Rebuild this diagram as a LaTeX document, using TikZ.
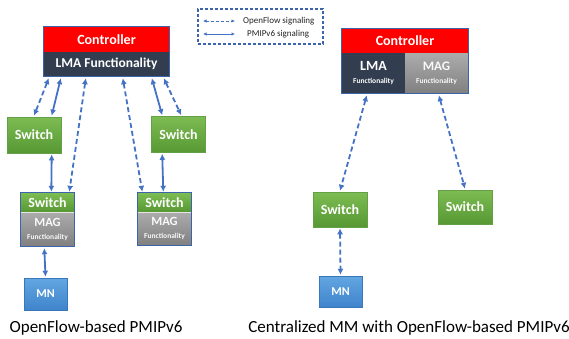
\documentclass[tikz,border=0pt]{standalone}
\usepackage{fontspec}
\setmainfont{Carlito}
\usetikzlibrary{arrows.meta}
\definecolor{ctrlred}{RGB}{255,0,0}
\definecolor{lmadark}{RGB}{50,62,80}
\definecolor{edgeblue}{RGB}{60,100,170}
\definecolor{arrowblue}{RGB}{68,114,196}
\definecolor{swtop}{RGB}{124,188,82}
\definecolor{swbot}{RGB}{88,152,52}
\definecolor{swedge}{RGB}{100,160,70}
\definecolor{magtop}{RGB}{172,172,172}
\definecolor{magbot}{RGB}{128,128,128}
\definecolor{mntop}{RGB}{98,166,226}
\definecolor{mnbot}{RGB}{64,132,204}
\newcommand\fnsmall{\fontsize{7.5}{9}\selectfont\bfseries}
\tikzset{
  boxlabel/.style={text=white, font=\bfseries, inner sep=0pt, align=center},
  ctrlbox/.style={boxlabel, fill=ctrlred, font=\fontsize{14}{16}\selectfont\bfseries},
  lmabox/.style={boxlabel, fill=lmadark},
  switchbox/.style={boxlabel, top color=swtop, bottom color=swbot, draw=swedge, line width=0.6pt,
    font=\fontsize{14}{16}\selectfont\bfseries, minimum width=54pt, minimum height=36pt},
  comboswitch/.style={boxlabel, top color=swtop, bottom color=swbot,
    font=\fontsize{14}{16}\selectfont\bfseries, minimum width=54pt, minimum height=19pt},
  magbox/.style={boxlabel, top color=magtop, bottom color=magbot, text=white!95!gray},
  mnbox/.style={boxlabel, top color=mntop, bottom color=mnbot, draw=mnbot!90!black, line width=0.5pt,
    font=\fontsize{12}{14}\selectfont\bfseries, minimum width=43pt, minimum height=32pt},
  outline/.style={draw=edgeblue, line width=1.2pt},
  pmip/.style={draw=arrowblue, line width=1.8pt, {Latex[length=6pt,width=6pt]}-{Latex[length=6pt,width=6pt]}},
  ofsig/.style={pmip, dash pattern=on 5pt off 3pt},
  caption/.style={font=\fontsize{17}{20}\selectfont, text=black},
  bigfn/.style={font=\fontsize{13.5}{16}\selectfont\bfseries},
}
\begin{document}
\begin{tikzpicture}[x=1pt,y=-1pt]
\useasboundingbox[fill=white] (0,0) rectangle (569,338);

% ---- legend ----
\node[draw=edgeblue, line width=1.2pt, dash pattern=on 3pt off 2pt, minimum width=125pt, minimum height=35pt, inner sep=0pt] (legend) at (260.5,26.5) {};
\coordinate (lgOFa) at (203,21);
\coordinate (lgOFb) at (235,21);
\coordinate (lgPMa) at (203,34);
\coordinate (lgPMb) at (235,34);
\draw[draw=arrowblue, line width=1pt, dash pattern=on 3pt off 2pt, {Latex[length=3.5pt,width=3.5pt]}-{Latex[length=3.5pt,width=3.5pt]}] (lgOFa) -- (lgOFb);
\draw[draw=arrowblue, line width=1pt, {Latex[length=3.5pt,width=3.5pt]}-{Latex[length=3.5pt,width=3.5pt]}] (lgPMa) -- (lgPMb);
\node[anchor=west, font=\fontsize{9}{11}\selectfont, inner sep=0pt, text=black!85] (lgOFt) at (243,21) {OpenFlow signaling};
\node[anchor=west, font=\fontsize{9}{11}\selectfont, inner sep=0pt, text=black!85] (lgPMt) at (247,34) {PMIPv6 signaling};

% ---- left: OpenFlow-based PMIPv6 ----
\node[ctrlbox, minimum width=125pt, minimum height=25pt] (ctrlL) at (106.5,39.5) {Controller};
\node[lmabox, bigfn, minimum width=125pt, minimum height=24pt] (lmaL) at (106.5,64) {LMA Functionality};
\draw[outline] (ctrlL.north west) rectangle (lmaL.south east);

\node[switchbox] (sw1) at (34,135) {Switch};
\node[switchbox] (sw2) at (178.5,134.5) {Switch};

\node[comboswitch] (cs1) at (47.5,202.5) {Switch};
\node[magbox, minimum width=54pt, minimum height=34pt] (mag1) at (47.5,229)
  {{\fontsize{12.5}{13}\selectfont\bfseries MAG}\\[1pt]{\fnsmall Functionality}};
\draw[white!80!gray, line width=0.8pt] (cs1.south west) -- (cs1.south east);
\draw[outline] (cs1.north west) rectangle (mag1.south east);

\node[comboswitch] (cs2) at (164.5,202.5) {Switch};
\node[magbox, minimum width=54pt, minimum height=33pt] (mag2) at (164.5,228.5)
  {{\fontsize{12.5}{13}\selectfont\bfseries MAG}\\[1pt]{\fnsmall Functionality}};
\draw[white!80!gray, line width=0.8pt] (cs2.south west) -- (cs2.south east);
\draw[outline] (cs2.north west) rectangle (mag2.south east);

\node[mnbox] (mn1) at (45.5,294) {MN};

\draw[ofsig] ([xshift=5pt,yshift=-2pt]lmaL.south west) -- ([yshift=1pt]sw1.north);
\draw[pmip]  ([xshift=17pt,yshift=-2pt]lmaL.south west) -- ([xshift=45pt,yshift=1pt]sw1.north west);
\draw[ofsig] ([xshift=42pt,yshift=-2pt]lmaL.south west) -- ([xshift=49pt,yshift=1pt]cs1.north west);
\draw[ofsig] ([xshift=79pt,yshift=-2pt]lmaL.south west) -- ([xshift=5pt,yshift=1pt]cs2.north west);
\draw[pmip]  ([xshift=108pt,yshift=-2pt]lmaL.south west) -- ([xshift=11pt,yshift=1pt]sw2.north west);
\draw[ofsig] ([xshift=120pt,yshift=-2pt]lmaL.south west) -- ([xshift=30pt,yshift=1pt]sw2.north west);
\draw[pmip]  ([xshift=45pt,yshift=-1pt]sw1.south west) -- ([xshift=31pt,yshift=1pt]cs1.north west);
\draw[pmip]  ([xshift=11pt,yshift=-1pt]sw2.south west) -- ([xshift=26pt,yshift=1pt]cs2.north west);
\draw[pmip]  ([xshift=24pt,yshift=-2pt]mag1.south west) -- ([yshift=1pt]mn1.north);

\node[caption] (capL) at (96,328) {OpenFlow-based PMIPv6};

% ---- right: centralized MM ----
\node[ctrlbox, minimum width=126pt, minimum height=24pt] (ctrlR) at (405,41) {Controller};
\node[lmabox, minimum width=63pt, minimum height=40pt] (lmaR) at (373.5,73)
  {{\fontsize{14}{15}\selectfont\bfseries LMA}\\[1pt]{\fnsmall Functionality}};
\node[magbox, minimum width=63pt, minimum height=40pt] (magR) at (436.5,73)
  {{\fontsize{13}{14}\selectfont\bfseries MAG}\\[1pt]{\fnsmall Functionality}};
\draw[outline, line width=1pt] (ctrlR.north west) rectangle (magR.south east);

\node[switchbox, minimum height=35pt] (sw3) at (340,209.5) {Switch};
\node[switchbox, minimum height=34pt] (sw4) at (465,207) {Switch};
\node[mnbox, minimum height=31pt] (mn2) at (340.5,291.5) {MN};

\draw[ofsig] ([xshift=25pt,yshift=-2pt]lmaR.south west) -- ([yshift=1pt]sw3.north);
\draw[ofsig] ([xshift=34pt,yshift=-2pt]magR.south west) -- ([yshift=1pt]sw4.north);
\draw[ofsig] ([yshift=-1pt]sw3.south) -- ([yshift=1pt]mn2.north);

\node[caption] (capR) at (409,328) {Centralized MM with OpenFlow-based PMIPv6};
\end{tikzpicture}
\end{document}
